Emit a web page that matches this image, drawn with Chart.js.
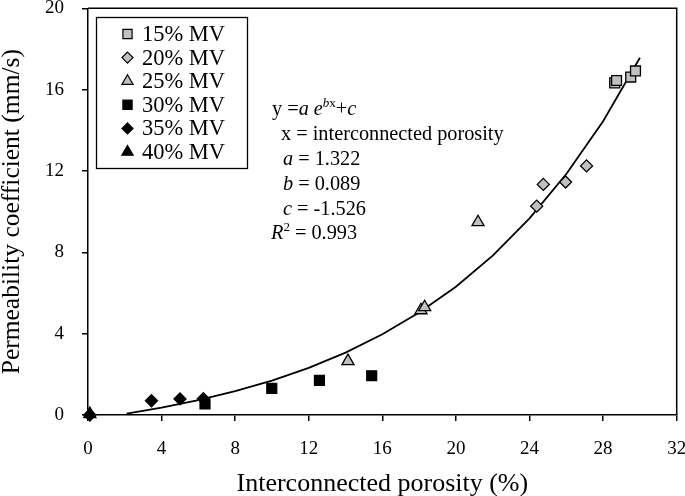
<!DOCTYPE html>
<html><head><meta charset="utf-8">
<script src="https://cdn.jsdelivr.net/npm/chart.js@4/dist/chart.umd.min.js"></script>
<style>html,body{margin:0;padding:0;background:#fff;}</style>
</head><body>
<canvas id="c" width="685" height="496" style="width:685px;height:496px;display:block"></canvas>
<script>
// ---- data ----
const seriesLabels = ['15% MV', '20% MV', '25% MV', '30% MV', '35% MV', '40% MV'];
const mv15X = [28.63, 28.73, 29.50, 29.76];
const mv15Y = [16.33, 16.45, 16.62, 16.92];
const mv20X = [24.39, 24.75, 25.96, 27.10];
const mv20Y = [10.27, 11.34, 11.46, 12.25];
const mv25X = [14.13, 18.10, 18.30, 21.20];
const mv25Y = [2.65, 5.15, 5.30, 9.48];
const mv30X = [6.36, 9.99, 12.58, 15.42];
const mv30Y = [0.54, 1.31, 1.70, 1.93];
const mv35X = [0.1, 3.45, 5.00, 6.27];
const mv35Y = [0.0, 0.70, 0.79, 0.80];
const mv40X = [0.1];
const mv40Y = [0.05];
const fitX = [2.1, 4, 6, 8, 10, 12, 14, 16, 18, 20, 22, 24, 26, 28, 30];
const fitY = [0.07, 0.36, 0.73, 1.17, 1.69, 2.32, 3.07, 3.97, 5.04, 6.31, 7.84, 9.67, 11.85, 14.45, 17.57];
const xTicks = [0, 4, 8, 12, 16, 20, 24, 28, 32];
const yTicks = [0, 4, 8, 12, 16, 20];
const xTitle = 'Interconnected porosity (%)';
const yTitle = 'Permeability coefficient (mm/s)';

const FONT = "'Liberation Serif', 'Times New Roman', serif";
const GRAY = '#c0c0c0';
const pts = (xs, ys) => xs.map((x, i) => ({ x: x, y: ys[i] }));

const styles = [
  { pointStyle: 'rect', fill: GRAY, r: 7 },
  { pointStyle: 'rectRot', fill: GRAY, r: 6 },
  { pointStyle: 'triangle', fill: GRAY, r: 7 },
  { pointStyle: 'rect', fill: '#000', r: 7 },
  { pointStyle: 'rectRot', fill: '#000', r: 6 },
  { pointStyle: 'triangle', fill: '#000', r: 7 }
];
const seriesData = [pts(mv15X, mv15Y), pts(mv20X, mv20Y), pts(mv25X, mv25Y), pts(mv30X, mv30Y), pts(mv35X, mv35Y), pts(mv40X, mv40Y)];

const datasets = [{
  label: 'fit', data: pts(fitX, fitY), showLine: true, borderColor: '#000', borderWidth: 1.8,
  pointRadius: 0, pointHoverRadius: 0, fill: false, tension: 0, order: 10
}];
seriesLabels.forEach((lab, i) => {
  datasets.push({
    label: lab, data: seriesData[i], showLine: false, clip: false,
    pointStyle: styles[i].pointStyle, pointRadius: styles[i].r, pointHoverRadius: styles[i].r,
    backgroundColor: styles[i].fill, borderColor: '#000', borderWidth: 1.3, order: 6 - i
  });
});

function marker(ctx, style, x, y, r, fill) {
  ctx.save();
  ctx.beginPath();
  if (style === 'rect') {
    const s = Math.SQRT1_2 * r;
    ctx.rect(x - s, y - s, 2 * s, 2 * s);
  } else if (style === 'rectRot') {
    ctx.moveTo(x, y - r); ctx.lineTo(x + r, y); ctx.lineTo(x, y + r); ctx.lineTo(x - r, y); ctx.closePath();
  } else {
    ctx.moveTo(x, y - r);
    ctx.lineTo(x + Math.sin(2 * Math.PI / 3) * r, y - Math.cos(2 * Math.PI / 3) * r);
    ctx.lineTo(x + Math.sin(4 * Math.PI / 3) * r, y - Math.cos(4 * Math.PI / 3) * r);
    ctx.closePath();
  }
  ctx.fillStyle = fill; ctx.fill();
  ctx.lineWidth = 1.2; ctx.strokeStyle = '#000'; ctx.stroke();
  ctx.restore();
}

function rich(ctx, x, y, parts, size) {
  let cx = x;
  parts.forEach(p => {
    const sz = p.sup ? Math.round(size * 0.62) : size;
    ctx.font = (p.it ? 'italic ' : '') + sz + 'px ' + FONT;
    ctx.fillText(p.t, cx, p.sup ? y - size * 0.38 : y);
    cx += ctx.measureText(p.t).width;
  });
}

const decor = {
  id: 'decor',
  afterDraw(chart) {
    const ctx = chart.ctx, a = chart.chartArea;
    ctx.save();
    // frame: top and right
    ctx.strokeStyle = '#000'; ctx.lineWidth = 1.5;
    ctx.beginPath();
    ctx.moveTo(a.left, a.top); ctx.lineTo(a.right, a.top); ctx.lineTo(a.right, a.bottom);
    ctx.stroke();
    // legend box
    ctx.lineWidth = 1.3;
    ctx.strokeRect(96.5, 17.5, 151, 151);
    ctx.textBaseline = 'middle'; ctx.textAlign = 'left';
    seriesLabels.forEach((lab, i) => {
      const yy = 34 + i * 23.6;
      const st = styles[i];
      marker(ctx, st.pointStyle, 127.5, yy, st.pointStyle === 'rectRot' ? 5.5 : 6.5, st.fill);
      ctx.fillStyle = '#000';
      ctx.font = '22.5px ' + FONT;
      ctx.fillText(lab, 142, yy + 1);
    });
    // equation annotation
    ctx.fillStyle = '#000'; ctx.textBaseline = 'alphabetic';
    const S = 20.3;
    rich(ctx, 272, 115, [{ t: 'y =' }, { t: 'a e', it: true }, { t: 'b', it: true, sup: true }, { t: 'x', sup: true }, { t: '+' }, { t: 'c', it: true }], S);
    rich(ctx, 281, 140, [{ t: 'x = interconnected porosity' }], S);
    rich(ctx, 283, 165, [{ t: 'a', it: true }, { t: ' = 1.322' }], S);
    rich(ctx, 283, 190, [{ t: 'b', it: true }, { t: ' = 0.089' }], S);
    rich(ctx, 283, 215, [{ t: 'c', it: true }, { t: ' = -1.526' }], S);
    rich(ctx, 271, 239, [{ t: 'R', it: true }, { t: '2', sup: true }, { t: ' = 0.993' }], S);
    ctx.restore();
  }
};

function noPad(s) { s.paddingTop = 0; s.paddingBottom = 0; s.paddingLeft = 0; s.paddingRight = 0; }

new Chart(document.getElementById('c'), {
  type: 'scatter',
  data: { datasets: datasets },
  plugins: [decor],
  options: {
    responsive: false, animation: false,
    layout: { padding: { top: 8, right: 8, left: 0, bottom: 0 } },
    plugins: { legend: { display: false }, tooltip: { enabled: false } },
    scales: {
      x: {
        type: 'linear', min: 0, max: 32,
        afterBuildTicks: s => { s.ticks = xTicks.map(v => ({ value: v })); },
        afterFit: s => { s.height = 81; noPad(s); },
        grid: { display: true, drawOnChartArea: false, drawTicks: true, tickLength: 6, color: '#000', lineWidth: 1.5 },
        border: { display: true, color: '#000', width: 1.5 },
        ticks: { color: '#000', font: { family: FONT, size: 19 }, padding: 17, maxRotation: 0, autoSkip: false },
        title: { display: true, text: xTitle, color: '#000', font: { family: FONT, size: 26, lineHeight: 0.8 }, padding: { top: 0, bottom: 1 } }
      },
      y: {
        type: 'linear', min: 0, max: 20,
        afterBuildTicks: s => { s.ticks = yTicks.map(v => ({ value: v })); },
        afterFit: s => { s.width = 88; noPad(s); },
        grid: { display: true, drawOnChartArea: false, drawTicks: true, tickLength: 6, color: '#000', lineWidth: 1.5 },
        border: { display: true, color: '#000', width: 1.5 },
        ticks: { color: '#000', font: { family: FONT, size: 19 }, padding: 18, autoSkip: false },
        title: { display: true, text: yTitle, color: '#000', font: { family: FONT, size: 25.5, lineHeight: 1 }, padding: { top: 0, bottom: 0 } }
      }
    }
  }
});
</script>
</body></html>
